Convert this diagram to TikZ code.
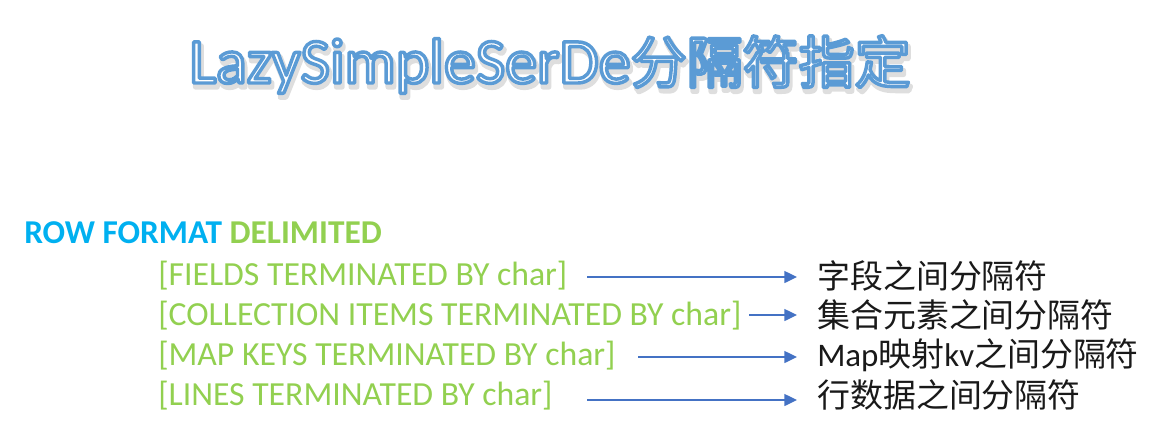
\documentclass[tikz,border=0pt]{standalone}
\usepackage{fontspec}
\setmainfont{Carlito}
\newfontfamily\cjk{Noto Sans CJK SC}
\usetikzlibrary{arrows.meta}
\definecolor{rowblue}{HTML}{00B0F0}
\definecolor{delimgreen}{HTML}{92D050}
\definecolor{arrowblue}{HTML}{4472C4}
\definecolor{titleblue}{HTML}{5B9BD5}
% outlined text: white fill, blue stroke
\newcommand\outlined[1]{\textcolor{white}{\special{pdf:literal direct 0.357 0.608 0.835 RG 2.6 w 1 j 2 Tr}#1\special{pdf:literal direct 0 Tr}}}
% soft shadow behind the title
\newcommand\shadowed[1]{\textcolor{black!13}{\special{pdf:literal direct 4 w 1 j 2 Tr}#1\special{pdf:literal direct 0 Tr}}}
\newcommand\titletext{LazySimpleSerDe{\cjk\fontsize{42}{50}\selectfont 分隔符指定}}

\begin{document}
\begin{tikzpicture}[x=0.75pt, y=-0.75pt,
  heading/.style={anchor=base west, inner sep=0pt, font=\fontsize{48}{56}\selectfont},
  clause/.style={anchor=base west, inner sep=0pt, text=delimgreen, font=\fontsize{25.3}{30}\selectfont},
  meaning/.style={anchor=west, inner sep=0pt, text=black!90, font=\fontsize{24.7}{29}\selectfont},
  link/.style={draw=arrowblue, line width=1pt, -{Triangle[length=9.5pt, width=9pt]}, shorten >=15pt}]
  %%%%% START %%%%%

  \useasboundingbox (0,0) rectangle (1151,426);

  % title
  \node[heading] (titleshadow) at (191,87) {\shadowed{\titletext}};
  \node[heading] (title) at (189,83) {\outlined{\titletext}};

  % syntax
  \node[anchor=base west, inner sep=0pt, font=\bfseries\fontsize{25}{30}\selectfont] (rowfmt) at (24,243) {\textcolor{rowblue}{ROW FORMAT} \textcolor{delimgreen}{DELIMITED}};

  \node[clause] (fields) at (158,285) {[FIELDS TERMINATED BY char]};
  \node[clause] (items) at (158,325) {[COLLECTION ITEMS TERMINATED BY char]};
  \node[clause] (keys) at (158,365) {[MAP KEYS TERMINATED BY char]};
  \node[clause] (lines) at (158,405) {[LINES TERMINATED BY char]};

  % meanings
  \node[meaning] (fieldsep) at (817,276) {\cjk 字段之间分隔符};
  \node[meaning] (itemsep) at (817,315) {\cjk 集合元素之间分隔符};
  \node[meaning] (keysep) at (817,355) {Map{\cjk 映射}kv{\cjk 之间分隔符}};
  \node[meaning] (linesep) at (817,395) {\cjk 行数据之间分隔符};

  \coordinate (f1) at (587,277);
  \coordinate (f2) at (749,315);
  \coordinate (f3) at (638,357);
  \coordinate (f4) at (587,400);

  \draw[link] (f1) -- (fieldsep.west |- f1);
  \draw[link] (f2) -- (itemsep.west |- f2);
  \draw[link] (f3) -- (keysep.west |- f3);
  \draw[link] (f4) -- (linesep.west |- f4);

  %%%%% END %%%%%
\end{tikzpicture}
\end{document}
